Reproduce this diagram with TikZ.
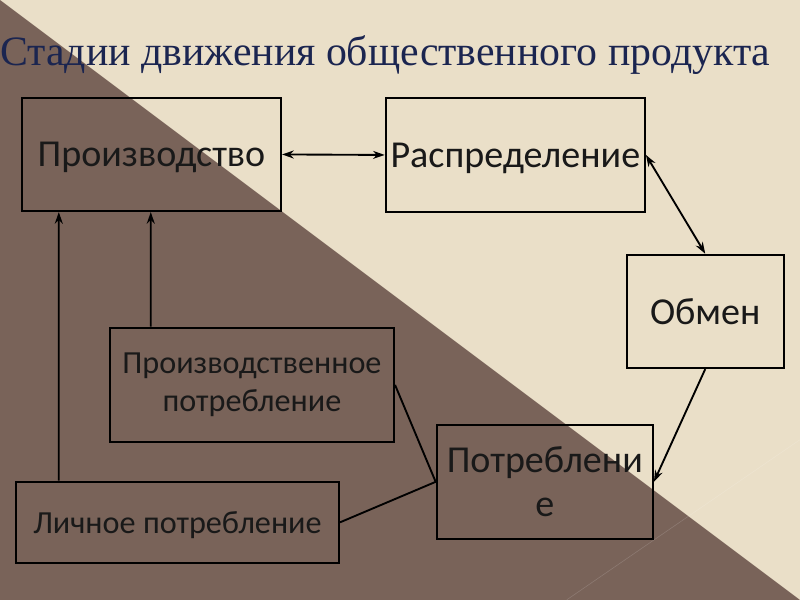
\documentclass[tikz,border=0pt]{standalone}
\usepackage{fontspec}
\setmainfont{Carlito}
\newfontfamily\titlefont{Liberation Serif}
\usepackage{tikz}
\usetikzlibrary{arrows.meta,positioning,calc}
\definecolor{sand}{RGB}{234,223,200}
\definecolor{umber}{RGB}{121,99,89}
\definecolor{navy}{RGB}{27,37,80}
\tikzset{
  snode/.style={draw,line width=2pt,inner sep=1pt,align=center,text=black!90,font=\fontsize{32.5}{38}\selectfont},
  tnode/.style={draw,line width=2pt,inner sep=1pt,align=center,text=black!90,font=\fontsize{27.5}{33}\selectfont},
  de/.style={{Stealth[length=3.5mm,width=2.4mm]}-{Stealth[length=3.5mm,width=2.4mm]},line width=1.6pt},
  ue/.style={-{Stealth[length=3.5mm,width=2.4mm]},line width=1.6pt},
  pe/.style={line width=1.6pt}
}

\begin{document}
\begin{tikzpicture}[x=0.03cm,y=-0.03cm]
% background
\fill[sand] (0,0) rectangle (800,600);
\fill[umber] (0,0) -- (800,600) -- (0,600) -- cycle;
\draw[white,opacity=0.15,line width=0.5pt] (567,600) -- (800,440);
\useasboundingbox (0,0) rectangle (800,600);
\node[anchor=base west,inner sep=0pt,text=navy,font=\titlefont\fontsize{35.7}{42}\selectfont] (title) at (0,66) {Стадии движения общественного продукта};
% stages
\node[snode,text depth=0pt,minimum width=7.77cm,minimum height=3.39cm] (prod) at (151.5,154.5) {Производство};
\node[snode,text depth=0pt,minimum width=7.77cm,minimum height=3.42cm] (rasp) at (515.5,155) {Распределение};
\node[snode,text depth=0pt,minimum width=4.71cm,minimum height=3.39cm] (obmen) at (705.5,311.5) {Обмен};
\node[snode,minimum width=6.48cm,minimum height=3.42cm] (potr) at (545,482) {Потреблени\\е};
\node[tnode,minimum width=8.52cm,minimum height=3.42cm] (pp) at (252,385) {Производственное\\потребление};
\node[tnode,text depth=0pt,minimum width=9.69cm,minimum height=2.43cm] (lp) at (177.5,522.5) {Личное потребление};
% connectors
\draw[de] (prod.east) -- (rasp.west);
\draw[de] (rasp.east) -- (obmen.north);
\draw[ue] (obmen.south) -- (potr.east);
\draw[pe] (pp.east) -- (potr.west);
\draw[pe] (lp.east) -- (potr.west);
\draw[ue] ([xshift=1.32cm]lp.north west) -- ([xshift=1.14cm]prod.south west);
\draw[ue] ([xshift=1.26cm]pp.north west) -- ([xshift=3.9cm]prod.south west);
\end{tikzpicture}
\end{document}
